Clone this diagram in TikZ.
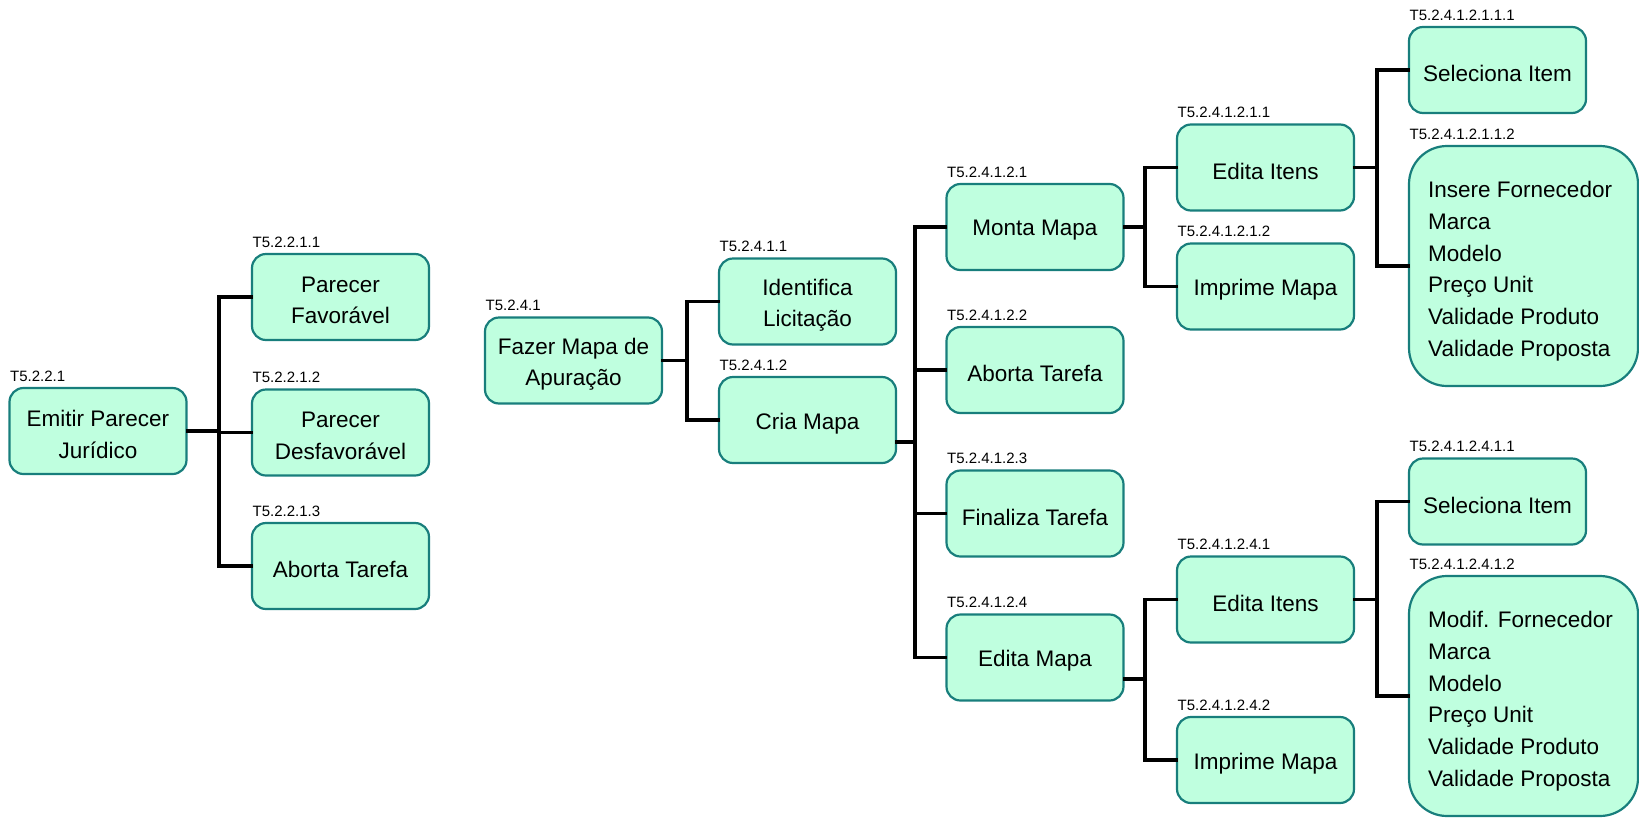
\documentclass[tikz,border=0pt]{standalone}
\usepackage{fontspec}
\setmainfont{Liberation Sans}
\begin{document}
\begin{tikzpicture}[x=1pt,y=-1pt,
  task/.style={draw=boxline, fill=boxfill, line width=2.2pt, rounded corners=14pt,
    minimum width=177pt, minimum height=86pt, inner sep=0pt,
    label={[tasktext]center:{#1}}},
  tasktext/.style={inner sep=0pt, align=center, yshift=-3.5pt,
    font=\fontsize{22.5}{31.5}\selectfont},
  listbox/.style={draw=boxline, fill=boxfill, line width=2.2pt, rounded corners=38pt,
    minimum width=229pt, minimum height=240pt, inner sep=0pt},
  listtext/.style={anchor=north west, inner sep=0pt, align=left,
    font=\fontsize{22.5}{31.8}\selectfont},
  code/.style={anchor=south west, inner xsep=1.5pt, inner ysep=0pt, yshift=5.5pt,
    font=\fontsize{15}{15}\selectfont},
  conn/.style={line width=3.3pt, line cap=rect}]
\definecolor{boxfill}{RGB}{191,255,223}
\definecolor{boxline}{RGB}{24,126,124}
\useasboundingbox (0,0) rectangle (1639,817);

% ---- T5.2.2.1 ----
\node[task={Emitir Parecer\\Jurídico}] (em) at (98,431) {};
\node[task={Parecer\\Favorável}] (pf) at (340.5,297) {};
\node[task={Parecer\\Desfavorável}] (pd) at (340.5,432.5) {};
\node[task={Aborta Tarefa}] (ab1) at (340.5,566) {};
\node[code] at (em.north west) {T5.2.2.1};
\node[code] at (pf.north west) {T5.2.2.1.1};
\node[code] at (pd.north west) {T5.2.2.1.2};
\node[code] at (ab1.north west) {T5.2.2.1.3};
\coordinate (ta) at (219,0);
\draw[conn] (em.east) -- (em.east -| ta) |- (pf.west);
\draw[conn] (em.east -| ta) |- (pd.west);
\draw[conn] (em.east -| ta) |- (ab1.west);

% ---- T5.2.4.1 ----
\node[task={Fazer Mapa de\\Apuração}] (fm) at (573.5,360.5) {};
\node[task={Identifica\\Licitação}] (il) at (807.5,301.5) {};
\node[task={Cria Mapa}] (cm) at (807.5,420) {};
\node[code] at (fm.north west) {T5.2.4.1};
\node[code] at (il.north west) {T5.2.4.1.1};
\node[code] at (cm.north west) {T5.2.4.1.2};
\coordinate (tb) at (687,0);
\draw[conn] (fm.east) -- (fm.east -| tb) |- (il.west);
\draw[conn] (fm.east -| tb) |- (cm.west);

% ---- T5.2.4.1.2 ----
\node[task={Monta Mapa}] (mm) at (1035,227) {};
\node[task={Aborta Tarefa}] (ab2) at (1035,370) {};
\node[task={Finaliza Tarefa}] (ft) at (1035,513.5) {};
\node[task={Edita Mapa}] (emp) at (1035,657.5) {};
\node[code] at (mm.north west) {T5.2.4.1.2.1};
\node[code] at (ab2.north west) {T5.2.4.1.2.2};
\node[code] at (ft.north west) {T5.2.4.1.2.3};
\node[code] at (emp.north west) {T5.2.4.1.2.4};
\coordinate (tc) at (915,0);
\coordinate (cmout) at ([yshift=-22pt]cm.east);
\draw[conn] (cmout) -- (cmout -| tc) |- (mm.west);
\draw[conn] (cmout -| tc) |- (ab2.west);
\draw[conn] (cmout -| tc) |- (ft.west);
\draw[conn] (cmout -| tc) |- (emp.west);

% ---- T5.2.4.1.2.1 ----
\node[task={Edita Itens}] (ei1) at (1265.5,167.5) {};
\node[task={Imprime Mapa}] (im1) at (1265.5,286.5) {};
\node[code] at (ei1.north west) {T5.2.4.1.2.1.1};
\node[code] at (im1.north west) {T5.2.4.1.2.1.2};
\coordinate (td) at (1145,0);
\draw[conn] (mm.east) -- (mm.east -| td) |- (ei1.west);
\draw[conn] (mm.east -| td) |- (im1.west);

\node[task={Seleciona Item}] (si1) at (1497.5,70) {};
\node[listbox] (lb1) at (1523.5,266) {};
\node[listtext] (lt1) at (1428,181) {Insere Fornecedor\\Marca\\Modelo\\Preço Unit\\Validade Produto\\Validade Proposta};
\node[code] at (si1.north west) {T5.2.4.1.2.1.1.1};
\node[code] at (lb1.north west) {T5.2.4.1.2.1.1.2};
\coordinate (te) at (1377,0);
\draw[conn] (ei1.east) -- (ei1.east -| te) |- (si1.west);
\draw[conn] (ei1.east -| te) |- (lb1.west);

% ---- T5.2.4.1.2.4 ----
\node[task={Edita Itens}] (ei2) at (1265.5,599.5) {};
\node[task={Imprime Mapa}] (im2) at (1265.5,760) {};
\node[code] at (ei2.north west) {T5.2.4.1.2.4.1};
\node[code] at (im2.north west) {T5.2.4.1.2.4.2};
\coordinate (emout) at ([yshift=-21.5pt]emp.east);
\draw[conn] (emout) -- (emout -| td) |- (ei2.west);
\draw[conn] (emout -| td) |- (im2.west);

\node[task={Seleciona Item}] (si2) at (1497.5,501.5) {};
\node[listbox] (lb2) at (1523.5,696) {};
\node[listtext] (lt2) at (1428,611) {Modif. Fornecedor\\Marca\\Modelo\\Preço Unit\\Validade Produto\\Validade Proposta};
\node[code] at (si2.north west) {T5.2.4.1.2.4.1.1};
\node[code] at (lb2.north west) {T5.2.4.1.2.4.1.2};
\draw[conn] (ei2.east) -- (ei2.east -| te) |- (si2.west);
\draw[conn] (ei2.east -| te) |- (lb2.west);
\end{tikzpicture}
\end{document}
